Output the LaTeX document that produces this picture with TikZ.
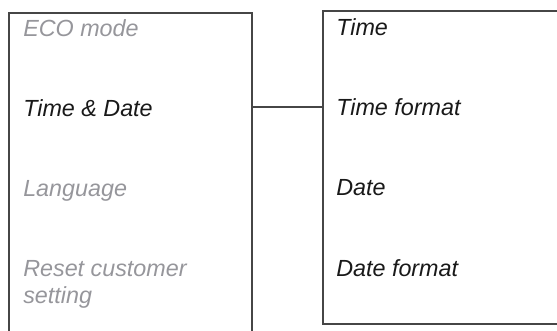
\documentclass[tikz,border=0pt]{standalone}
\usepackage{fontspec}
\setmainfont{Liberation Sans}
\definecolor{framegray}{RGB}{70,70,70}
\definecolor{offgray}{RGB}{150,150,155}
\definecolor{ongray}{RGB}{25,25,25}
\tikzset{
  panel/.style={draw=framegray, line width=0.9pt, inner sep=0pt},
  entry/.style={anchor=base west, inner sep=0pt, align=left,
    font=\fontsize{17.5}{20.5}\selectfont\itshape},
  inactive/.style={entry, text=offgray},
  active/.style={entry, text=ongray}
}
\begin{document}
\begin{tikzpicture}[x=0.75pt, y=-0.75pt]
  % Bildausschnitt, Rahmen laufen unten bzw. rechts hinaus
  \def\u{0.75pt}
  \useasboundingbox (0,0) rectangle (557,331);
  \clip (0,0) rectangle (557,331);

  % 1. Hauptmenue (links)
  \node[panel, minimum width=243*\u, minimum height=347*\u] (menu) at (130.5,186.5) {};
  \node[inactive] (eco)   at (23,37)  {ECO mode};
  \node[active]   (timedate) at (23,117) {Time \& Date};
  \node[inactive] (lang)  at (23,197) {Language};
  \node[inactive] (reset) at (23,304) {Reset customer\\setting};

  % 2. Untermenue (rechts)
  \node[panel, minimum width=257*\u, minimum height=313*\u] (sub) at (451.5,167.5) {};
  \node[active] (time)    at (336,36)  {Time};
  \node[active] (timefmt) at (336,116) {Time format};
  \node[active] (date)    at (336,196) {Date};
  \node[active] (datefmt) at (336,277) {Date format};

  % 3. Verbindung
  \coordinate (link) at (0,107);
  \draw[framegray, line width=0.9pt] (menu.east |- link) -- (sub.west |- link);
\end{tikzpicture}
\end{document}
